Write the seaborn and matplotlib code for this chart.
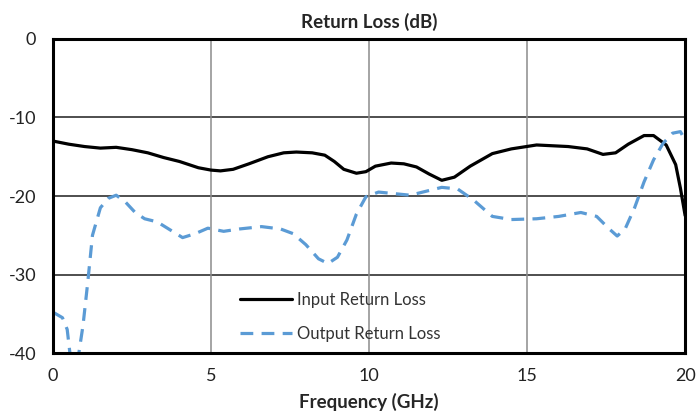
import numpy as np
import pandas as pd
import matplotlib
matplotlib.use("Agg")
import matplotlib.pyplot as plt
import seaborn as sns

# Data
input_freq = [0.0, 0.5, 1.0, 1.5, 2.0, 2.5, 3.0, 3.5, 4.0, 4.6, 5.0, 5.3, 5.7, 6.2, 6.8, 7.3, 7.7, 8.2, 8.6, 8.9,
              9.2, 9.6, 9.9, 10.2, 10.7, 11.1, 11.5, 11.9, 12.3, 12.7, 13.2, 13.9, 14.5, 15.3, 16.3, 16.9,
              17.4, 17.8, 18.2, 18.7, 19.0, 19.4, 19.7, 19.85, 20.0]
input_loss = [-13.0, -13.4, -13.7, -13.9, -13.8, -14.1, -14.5, -15.1, -15.6, -16.4, -16.7, -16.8, -16.6, -15.9,
              -15.0, -14.5, -14.4, -14.5, -14.8, -15.6, -16.6, -17.1, -16.9, -16.2, -15.8, -15.9, -16.3,
              -17.2, -18.0, -17.6, -16.2, -14.6, -14.0, -13.5, -13.7, -14.0, -14.7, -14.5, -13.4, -12.3,
              -12.3, -13.5, -16.0, -19.0, -22.5]

output_freq = [0.0, 0.3, 0.45, 0.55, 0.65, 0.8, 0.95, 1.1, 1.25, 1.5, 1.75, 2.0, 2.3, 2.6, 2.9, 3.3, 3.7,
               4.1, 4.5, 4.9, 5.4, 5.9, 6.6, 7.2, 7.6, 8.0, 8.4, 8.7, 9.0, 9.3, 9.6, 9.9, 10.3, 10.8, 11.3,
               11.8, 12.3, 12.8, 13.3, 13.9, 14.5, 15.3, 16.0, 16.7, 17.2, 17.6, 17.85, 18.1, 18.4, 18.7,
               19.0, 19.3, 19.6, 19.85, 20.0]
output_loss = [-34.8, -35.5, -37.0, -40.5, -41.5, -40.5, -36.5, -31.0, -25.0, -21.5, -20.3, -19.9, -20.8,
               -22.1, -22.9, -23.3, -24.3, -25.3, -24.8, -24.1, -24.5, -24.2, -23.9, -24.2, -24.8, -26.2,
               -28.0, -28.6, -27.8, -25.6, -22.3, -20.1, -19.5, -19.7, -19.9, -19.4, -18.9, -19.1, -20.5,
               -22.6, -23.0, -22.9, -22.6, -22.1, -22.6, -24.2, -25.1, -24.2, -21.5, -18.2, -15.4, -13.3,
               -12.0, -11.8, -12.9]

series_names = ["Input Return Loss", "Output Return Loss"]

sns.set_theme(style="white")
plt.rcParams["font.family"] = ["Lato", "DejaVu Sans"]
plt.rcParams["axes.unicode_minus"] = False

fig = plt.figure(figsize=(6.97, 4.18), dpi=100)
ax = fig.add_axes([0.076, 0.1555, 0.907, 0.7512])

sns.lineplot(x=input_freq, y=input_loss, ax=ax, color="black", linewidth=2.3,
             label=series_names[0], sort=False)
sns.lineplot(x=output_freq, y=output_loss, ax=ax, color="#5B9BD5", linewidth=2.3,
             label=series_names[1], sort=False, dashes=False)
ax.lines[1].set_dashes([4, 2.6])

ax.set_xlim(0, 20)
ax.set_ylim(-40, 0)
ax.set_xticks([0, 5, 10, 15, 20])
ax.set_yticks([0, -10, -20, -30, -40])
ax.tick_params(axis="x", length=4, width=1, color="#808080", labelsize=13, pad=7, direction="out")
ax.tick_params(axis="y", length=0, labelsize=13, pad=12)
for lbl in ax.get_xticklabels() + ax.get_yticklabels():
    lbl.set_color("#222222")

# gridlines: horizontal darker, vertical lighter
for yv in [-10, -20, -30]:
    ax.axhline(yv, color="#404040", linewidth=1.3, zorder=0)
for xv in [5, 10, 15]:
    ax.axvline(xv, color="#8c8c8c", linewidth=1.1, zorder=0)

for sp in ax.spines.values():
    sp.set_color("black")
    sp.set_linewidth(2.2)
    sp.set_visible(True)

ax.set_title("Return Loss (dB)", fontsize=13.5, fontweight="bold", pad=8)
ax.set_xlabel("Frequency (GHz)", fontsize=13.5, fontweight="bold", labelpad=6)
ax.set_ylabel("")

leg = ax.legend(loc="center left", bbox_to_anchor=(0.272, 0.115), frameon=False,
                fontsize=12, handlelength=3.1, handletextpad=0.35, labelspacing=1.1)
for t in leg.get_texts():
    t.set_color("#333333")

fig.savefig("out.png", dpi=100)
